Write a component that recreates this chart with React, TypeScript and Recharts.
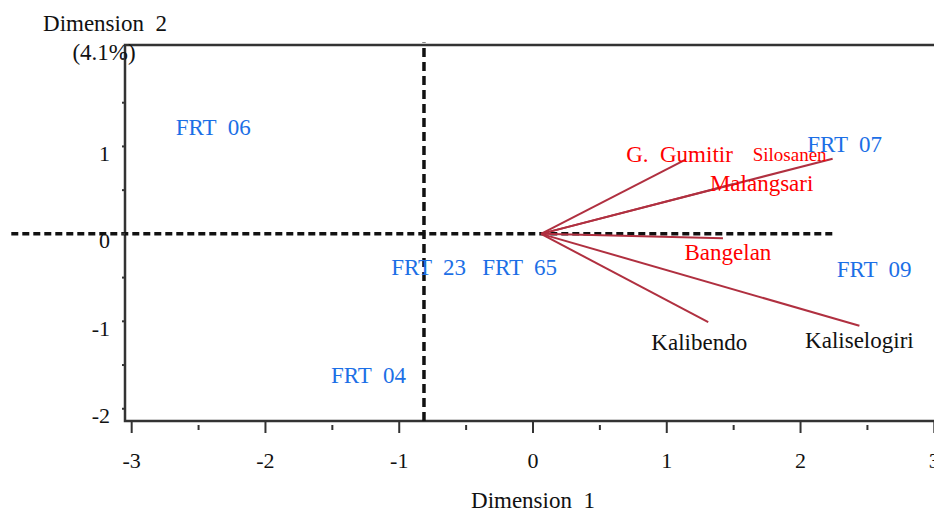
import { ScatterChart, Scatter, XAxis, YAxis, ReferenceLine, ReferenceArea, Label } from 'recharts';

// cultivar points (label drawn at the point)
const frtNames = ['FRT  06', 'FRT  07', 'FRT  23', 'FRT  65', 'FRT  09', 'FRT  04'];
const frtDim1 = [-2.39, 2.33, -0.78, -0.10, 2.55, -1.23];
const frtDim2 = [1.22, 1.02, -0.39, -0.39, -0.41, -1.62];

// location vectors
const vecNames = ['G.  Gumitir', 'Silosanen', 'Malangsari', 'Bangelan', 'Kalibendo', 'Kaliselogiri'];
const vecDim1 = [1.14, 2.24, 1.5, 1.42, 1.31, 2.44];
const vecDim2 = [0.85, 0.86, 0.57, -0.05, -1.01, -1.05];
const vecOrigin = { x: 0.06, y: 0 };

const xTicks = [-3, -2.5, -2, -1.5, -1, -0.5, 0, 0.5, 1, 1.5, 2, 2.5, 3];
const yTicks = [-2, -1.5, -1, -0.5, 0, 0.5, 1, 1.5, 2];
const yLabelled = [-2, -1, 0, 1];
const xDomain = [-3.05, 3.05];
const yDomain = [-2.14, 2.16];

// dashed reference lines
const hLine = { y: 0, from: -3.9, to: 2.25 };
const vLine = { x: -0.815, from: -2.14, to: 2.19 };

const FONT = "'Liberation Serif', 'DejaVu Serif', serif";
const BLUE = '#1c6fe6';
const RED = '#ff0000';
const VEC = '#b03040';

const labelStyle: Record<string, { dx: number; dy: number; color: string; size: number }> = {
  'G.  Gumitir': { dx: -6, dy: -5, color: RED, size: 23 },
  Silosanen: { dx: -43, dy: -4, color: RED, size: 19 },
  Malangsari: { dx: 28, dy: -1, color: RED, size: 23 },
  Bangelan: { dx: 5, dy: 14, color: RED, size: 23 },
  Kalibendo: { dx: -9, dy: 20, color: '#111', size: 23 },
  Kaliselogiri: { dx: 0, dy: 15, color: '#111', size: 23 },
};

const frtData = frtNames.map((name, i) => ({ name, x: frtDim1[i], y: frtDim2[i] }));
const vectors = vecNames.map((name, i) => [
  { x: vecOrigin.x, y: vecOrigin.y, name: '' },
  { x: vecDim1[i], y: vecDim2[i], name },
]);

const FrtLabel = (props: any) => {
  const { cx, cy, payload } = props;
  return (
    <text x={cx} y={cy} textAnchor="middle" dominantBaseline="central" fill={BLUE}
      fontSize={23} style={{ whiteSpace: 'pre', fontFamily: FONT }}>
      {payload.name}
    </text>
  );
};

const VecLabel = (props: any) => {
  const { cx, cy, payload } = props;
  if (!payload.name) return <g />;
  const s = labelStyle[payload.name];
  return (
    <text x={cx + s.dx} y={cy + s.dy} textAnchor="middle" dominantBaseline="central" fill={s.color}
      fontSize={s.size} style={{ whiteSpace: 'pre', fontFamily: FONT }}>
      {payload.name}
    </text>
  );
};

const XTick = (props: any) => {
  const { x, y, payload } = props;
  const major = Number.isInteger(payload.value);
  return (
    <g>
      {major
        ? <line x1={x} x2={x} y1={y} y2={y + 12} stroke="#333" strokeWidth={2} />
        : <line x1={x} x2={x} y1={y + 4} y2={y + 9} stroke="#333" strokeWidth={2} />}
      {major && (
        <text x={x} y={y + 39} textAnchor="middle" dominantBaseline="central" fill="#111"
          fontSize={22} style={{ fontFamily: FONT }}>{payload.value}</text>
      )}
    </g>
  );
};

const YTick = (props: any) => {
  const { x, y, payload } = props;
  const show = yLabelled.includes(payload.value);
  return (
    <g>
      <line x1={x - 3} x2={x} y1={y} y2={y} stroke="#333" strokeWidth={2} />
      {show && (
        <text x={x - 15} y={y + 7} textAnchor="end" dominantBaseline="central" fill="#111"
          fontSize={22} style={{ fontFamily: FONT }}>{payload.value}</text>
      )}
    </g>
  );
};

export default function App() {
  return (
    <div style={{ position: 'absolute', left: 0, top: 0, width: 934, height: 511, overflow: 'hidden', background: '#fff' }}>
      <ScatterChart width={946} height={511} margin={{ top: 45, right: 5, bottom: 0, left: 0 }}>
        <XAxis type="number" dataKey="x" domain={xDomain} ticks={xTicks} allowDataOverflow
          axisLine={false} tickLine={false} tickSize={0} tickMargin={0} height={90} tick={<XTick />}>
          <Label content={(p: any) => (
            <text x={p.viewBox.x + p.viewBox.width / 2} y={500} textAnchor="middle" dominantBaseline="central"
              fill="#111" fontSize={23} style={{ whiteSpace: 'pre', fontFamily: FONT }}>Dimension  1</text>
          )} />
        </XAxis>
        <YAxis type="number" dataKey="y" domain={yDomain} ticks={yTicks} allowDataOverflow
          axisLine={false} tickLine={false} tickSize={0} tickMargin={0} width={125} tick={<YTick />}>
          <Label content={() => (
            <g>
              <text x={105} y={23} textAnchor="middle" dominantBaseline="central" fill="#111"
                fontSize={23} style={{ whiteSpace: 'pre', fontFamily: FONT }}>Dimension  2</text>
              <text x={104} y={52} textAnchor="middle" dominantBaseline="central" fill="#111"
                fontSize={23} style={{ fontFamily: FONT }}>(4.1%)</text>
            </g>
          )} />
        </YAxis>
        <ReferenceArea x1={xDomain[0]} x2={xDomain[1]} y1={yDomain[0]} y2={yDomain[1]}
          fill="none" stroke="#333" strokeWidth={2.5} fillOpacity={0} />
        {vectors.map((d, i) => (
          <Scatter key={vecNames[i]} data={d} line={{ stroke: VEC, strokeWidth: 2 }}
            shape={<VecLabel />} isAnimationActive={false} />
        ))}
        <ReferenceLine segment={[{ x: hLine.from, y: hLine.y }, { x: hLine.to, y: hLine.y }]}
          ifOverflow="visible" stroke="#111" strokeWidth={3.5} strokeDasharray="7 4" />
        <ReferenceLine segment={[{ x: vLine.x, y: vLine.from }, { x: vLine.x, y: vLine.to }]}
          ifOverflow="visible" stroke="#111" strokeWidth={3.5} strokeDasharray="9 5" />
        <Scatter data={frtData} shape={<FrtLabel />} isAnimationActive={false} />
      </ScatterChart>
    </div>
  );
}
